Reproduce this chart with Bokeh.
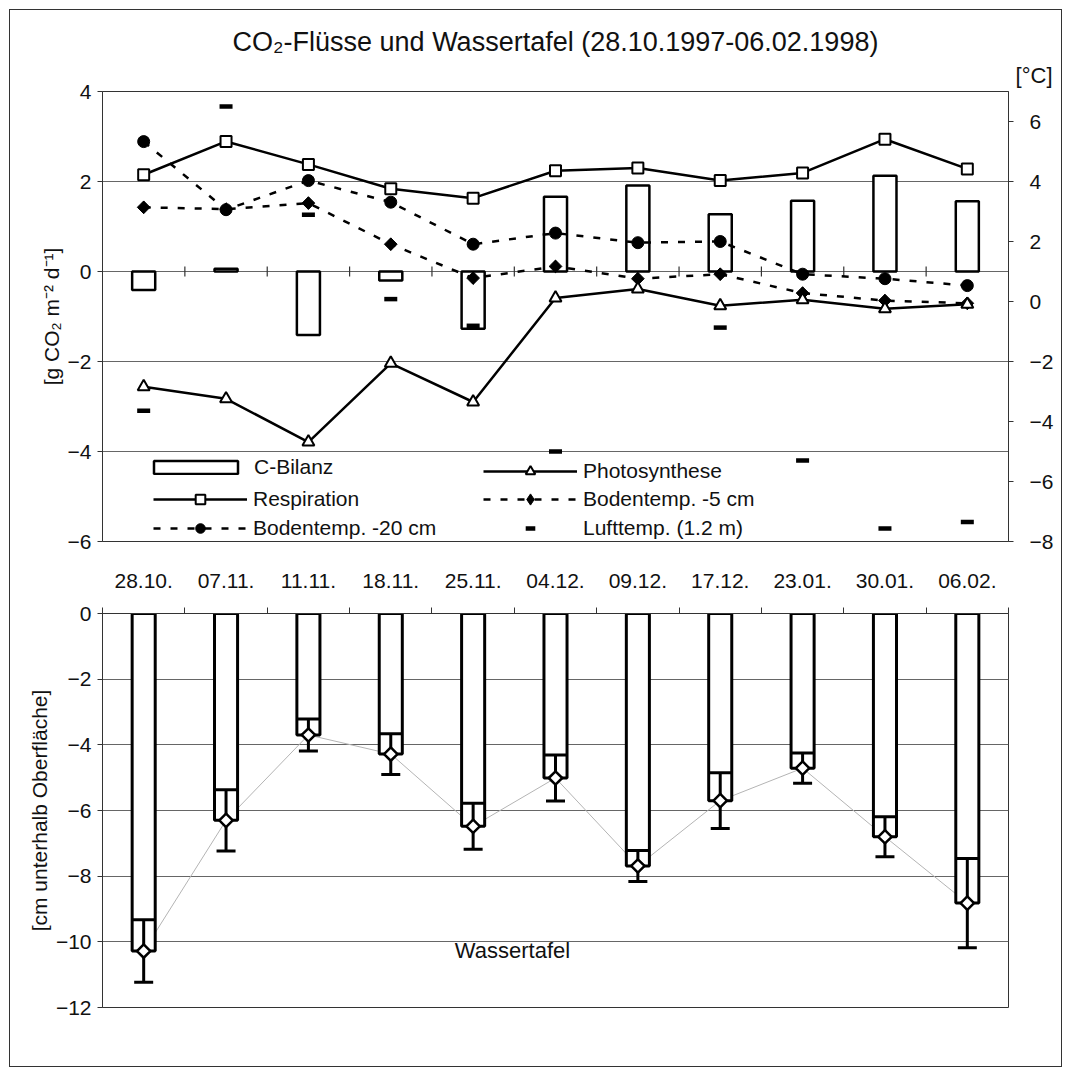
import numpy as np
from math import pi
from bokeh.plotting import figure
from bokeh.models import (Range1d, LinearAxis, FixedTicker, Legend, LegendItem,
                          Label, Title, ColumnDataSource)
from bokeh.layouts import column
from bokeh.embed import file_html
from bokeh.resources import INLINE

# ---------------- data ----------------
dates = ["28.10.", "07.11.", "11.11.", "18.11.", "25.11.", "04.12.",
         "09.12.", "17.12.", "23.01.", "30.01.", "06.02."]
c_bilanz = [-0.41, 0.06, -1.41, -0.20, -1.27, 1.66, 1.91, 1.27, 1.57, 2.13, 1.56]
respiration = [2.15, 2.89, 2.38, 1.84, 1.63, 2.24, 2.30, 2.02, 2.19, 2.94, 2.28]
photosynthese = [-2.56, -2.83, -3.79, -2.04, -2.90, -0.59, -0.39, -0.76, -0.63, -0.83, -0.73]
boden5 = [3.14, 3.08, 3.28, 1.91, 0.78, 1.17, 0.76, 0.91, 0.28, 0.03, -0.06]
boden20 = [5.33, 3.06, 4.03, 3.31, 1.91, 2.28, 1.96, 2.00, 0.91, 0.76, 0.53]
lufttemp = [-3.64, 6.50, 2.89, 0.08, -0.81, -5.00, float("nan"), -0.87, -5.30, -7.57, -7.35]
wt_mean = [-10.28, -6.30, -3.70, -4.28, -6.48, -5.01, -7.69, -5.70, -4.71, -6.80, -8.82]
wt_sd = [0.95, 0.93, 0.49, 0.62, 0.70, 0.70, 0.47, 0.85, 0.46, 0.61, 1.36]

left_ticks = [-6, -4, -2, 0, 2, 4]
right_ticks = [-8, -6, -4, -2, 0, 2, 4, 6]
bottom_ticks = [-12, -10, -8, -6, -4, -2, 0]

FONT = "Liberation Sans"
TICK_FS = "21px"
AX = "#333333"
GRID = "#666666"
TXT = "#111111"

x = np.arange(len(dates))
n = len(dates)

# ---------------- top figure ----------------
p1 = figure(frame_width=906, frame_height=450,
            min_border_left=92, min_border_right=53, min_border_top=81, min_border_bottom=29,
            x_range=Range1d(-0.5, n - 0.5), y_range=Range1d(-6, 4),
            output_backend="svg", toolbar_location=None,
            background_fill_color="white", border_fill_color="white")
p1.extra_y_ranges = {"temp": Range1d(-8, 7)}
p1.xaxis.visible = False
p1.xgrid.visible = False
p1.ygrid.ticker = FixedTicker(ticks=left_ticks)
p1.ygrid.grid_line_color = GRID
p1.outline_line_color = AX

la = p1.yaxis[0]
la.ticker = FixedTicker(ticks=left_ticks)
la.axis_label = "[g CO\u2082 m\u207b\u00b2 d\u207b\u00b9]"

ra = LinearAxis(y_range_name="temp", ticker=FixedTicker(ticks=right_ticks))
p1.add_layout(ra, "right")

for a in (la, ra):
    a.axis_line_color = AX
    a.major_tick_line_color = AX
    a.major_tick_out = 5
    a.major_tick_in = 0
    a.minor_tick_line_color = None
    a.major_label_text_font = FONT
    a.major_label_text_font_size = TICK_FS
    a.major_label_text_color = TXT
    a.major_label_standoff = 6
    a.axis_label_text_font = FONT
    a.axis_label_text_font_size = TICK_FS
    a.axis_label_text_font_style = "normal"
    a.axis_label_text_color = TXT
    a.axis_label_standoff = 2
ra.major_label_standoff = 16

# unit label of the right axis, placed just above the frame at the right edge
p1.add_layout(Title(text="[\u00b0C]", align="right", offset=-44, standoff=8,
                    text_font=FONT, text_font_size="22px", text_font_style="normal",
                    text_color=TXT), "above")

p1.title.text = "CO\u2082-Fl\u00fcsse und Wassertafel (28.10.1997-06.02.1998)"
p1.title.align = "center"
p1.title.text_font = FONT
p1.title.text_font_size = "27px"
p1.title.text_font_style = "normal"
p1.title.text_color = TXT
p1.title.standoff = 0

src = ColumnDataSource(dict(x=x, c=c_bilanz, r=respiration, ph=photosynthese,
                            b5=boden5, b20=boden20, lt=lufttemp))

# category boundary tick marks crossing the zero line
bnd = x[:-1] + 0.5
p1.scatter(x=bnd, y=np.zeros(len(bnd)), marker="dash", angle=pi / 2, size=10,
           line_color=AX, line_width=1.2)

bars = p1.vbar(x="x", top="c", bottom=0, width=0.28, source=src,
               fill_color="white", line_color="black", line_width=2.5)

b5_line = p1.line("x", "b5", source=src, y_range_name="temp", line_color="black",
                  line_width=2.5, line_dash="7 10")
b20_line = p1.line("x", "b20", source=src, y_range_name="temp", line_color="black",
                   line_width=2.5, line_dash="7 10")
r_line = p1.line("x", "r", source=src, line_color="black", line_width=2.5)
ph_line = p1.line("x", "ph", source=src, line_color="black", line_width=2.5)

# diamond glyph used for the legend key (lies fully under the rotated squares)
b5_key = p1.scatter("x", "b5", source=src, y_range_name="temp", marker="diamond",
                    size=12, fill_color="black", line_color="black")
b5_pts = p1.scatter("x", "b5", source=src, y_range_name="temp", marker="square",
                    angle=pi / 4, size=9, fill_color="black", line_color="black")
b20_pts = p1.scatter("x", "b20", source=src, y_range_name="temp", marker="circle",
                     size=12, fill_color="black", line_color="black")
r_pts = p1.scatter("x", "r", source=src, marker="square", size=11,
                   fill_color="white", line_color="black", line_width=2)
ph_pts = p1.scatter("x", "ph", source=src, marker="triangle", size=12,
                    fill_color="white", line_color="black", line_width=2)
lt_pts = p1.scatter("x", "lt", source=src, y_range_name="temp", marker="dash",
                    size=13, line_color="black", line_width=4.5)


def add_leg(p, label, renderers, lx, ly, gw, gh):
    leg = Legend(items=[LegendItem(label=label, renderers=renderers)],
                 location=(lx, ly), orientation="vertical",
                 glyph_width=gw, glyph_height=gh, label_height=gh,
                 label_standoff=6, padding=0, margin=0, spacing=0,
                 border_line_color=None, background_fill_alpha=0,
                 label_text_font=FONT, label_text_font_size=TICK_FS,
                 label_text_color=TXT, label_text_baseline="middle")
    p.add_layout(leg)


add_leg(p1, "C-Bilanz", [bars], 41, 62, 105, 16)
add_leg(p1, "Respiration", [r_line, r_pts], 51, 30, 94, 24)
add_leg(p1, "Bodentemp. -20 cm", [b20_line, b20_pts], 51, 1, 94, 24)
add_leg(p1, "Photosynthese", [ph_line, ph_pts], 381, 58, 94, 24)
add_leg(p1, "Bodentemp. -5 cm", [b5_line, b5_key], 381, 28, 94, 28)
add_leg(p1, "Lufttemp. (1.2 m)", [lt_pts], 381, 1, 94, 24)

# ---------------- bottom figure ----------------
p2 = figure(frame_width=906, frame_height=394,
            min_border_left=92, min_border_right=53, min_border_top=43, min_border_bottom=59,
            x_range=Range1d(-0.5, n - 0.5), y_range=Range1d(-12, 0),
            x_axis_location="above",
            output_backend="svg", toolbar_location=None,
            background_fill_color="white", border_fill_color="white")
p2.xgrid.visible = False
p2.ygrid.ticker = FixedTicker(ticks=bottom_ticks)
p2.ygrid.grid_line_color = GRID
p2.outline_line_color = AX

xa = p2.xaxis[0]
xa.ticker = FixedTicker(ticks=[int(i) for i in x],
                        minor_ticks=[float(v) for v in (np.arange(n + 1) - 0.5)])
xa.major_label_overrides = {int(i): d for i, d in zip(x, dates)}
xa.major_tick_out = 0
xa.major_tick_in = 0
xa.minor_tick_out = 6
xa.minor_tick_in = 0
xa.minor_tick_line_color = AX
xa.axis_line_color = AX
xa.major_label_text_font = FONT
xa.major_label_text_font_size = TICK_FS
xa.major_label_text_color = TXT
xa.major_label_standoff = 20

ya = p2.yaxis[0]
ya.ticker = FixedTicker(ticks=bottom_ticks)
ya.axis_line_color = AX
ya.major_tick_line_color = AX
ya.major_tick_out = 5
ya.major_tick_in = 0
ya.minor_tick_line_color = None
ya.major_label_text_font = FONT
ya.major_label_text_font_size = TICK_FS
ya.major_label_text_color = TXT
ya.major_label_standoff = 6
ya.axis_label = "[cm unterhalb Oberfl\u00e4che]"
ya.axis_label_text_font = FONT
ya.axis_label_text_font_size = TICK_FS
ya.axis_label_text_font_style = "normal"
ya.axis_label_text_color = TXT
ya.axis_label_standoff = 2

wm = np.array(wt_mean)
ws = np.array(wt_sd)
wsrc = ColumnDataSource(dict(x=x, m=wm, up=wm + ws, lo=wm - ws))

p2.line("x", "m", source=wsrc, line_color="#b4b4b4", line_width=1)
p2.vbar(x="x", top=0, bottom="m", width=0.28, source=wsrc,
        fill_color="white", line_color="black", line_width=3)
p2.segment(x0="x", y0="lo", x1="x", y1="up", source=wsrc, line_color="black", line_width=3)
p2.scatter("x", "up", source=wsrc, marker="dash", size=22, line_color="black", line_width=3)
p2.scatter("x", "lo", source=wsrc, marker="dash", size=19, line_color="black", line_width=3)
p2.scatter("x", "m", source=wsrc, marker="square", angle=pi / 4, size=9.5,
           fill_color="white", line_color="black", line_width=2.5)

p2.add_layout(Label(x=410, y=57, x_units="screen", y_units="screen", text="Wassertafel",
                    text_align="center", text_baseline="middle", text_font=FONT,
                    text_font_size="22px", text_color=TXT))

layout = column(p1, p2, margin=(9, 0, 0, 9), styles={"border": "1px solid #333333"})

open("out.html", "w").write(file_html(layout, INLINE))
